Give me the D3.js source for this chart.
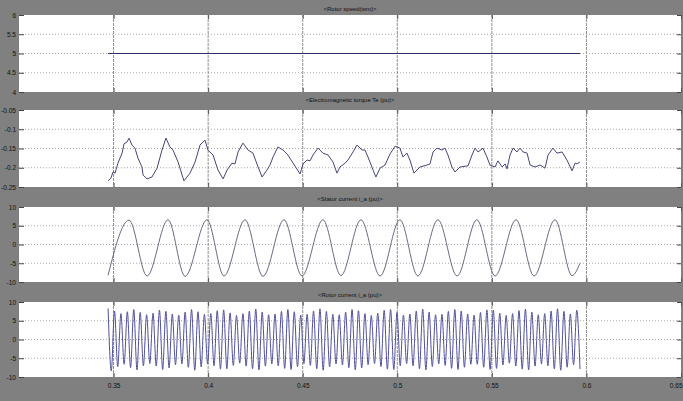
<!DOCTYPE html>
<html><head><meta charset="utf-8">
<script src="https://cdn.jsdelivr.net/npm/d3@7"></script>
<style>body{margin:0;background:#808080;overflow:hidden}svg{display:block}</style>
</head><body><svg id="c" width="683" height="401"></svg>
<script>
// ---------------- DATA ----------------
const xTicks = [0.35, 0.4, 0.45, 0.5, 0.55, 0.6, 0.65];
const xTickLabels = ["0.35", "0.4", "0.45", "0.5", "0.55", "0.6", "0.65"];

const titles = ["<Rotor speed(wm)>", "<Electromagnetic torque Te (pu)>", "<Stator current i_a (pu)>", "<Rotor current i_a (pu)>"];

const speedTicks = [4, 4.5, 5, 5.5, 6];
const speedTickLabels = ["4", "4.5", "5", "5.5", "6"];
const torqueTicks = [-0.25, -0.2, -0.15, -0.1, -0.05];
const torqueTickLabels = ["-0.25", "-0.2", "-0.15", "-0.1", "-0.05"];
const currentTicks = [-10, -5, 0, 5, 10];
const currentTickLabels = ["-10", "-5", "0", "5", "10"];

const speedT = [0.3471, 0.5966];
const speedV = [5, 5];

const torqueT = [0.3471,0.3486,0.3497,0.3508,0.3523,0.3545,0.3555,0.3571,0.3582,0.3597,0.3613,0.3629,0.3650,0.3656,0.3677,0.3703,0.3730,0.3756,0.3777,0.3798,0.3814,0.3841,0.3872,0.3904,0.3931,0.3957,0.3983,0.3999,0.4026,0.4052,0.4079,0.4100,0.4126,0.4142,0.4158,0.4184,0.4211,0.4237,0.4264,0.4285,0.4311,0.4327,0.4343,0.4369,0.4396,0.4422,0.4449,0.4486,0.4502,0.4523,0.4539,0.4554,0.4581,0.4607,0.4634,0.4660,0.4681,0.4697,0.4724,0.4739,0.4766,0.4787,0.4813,0.4829,0.4845,0.4872,0.4887,0.4909,0.4935,0.4962,0.4988,0.5014,0.5030,0.5051,0.5067,0.5088,0.5120,0.5157,0.5173,0.5189,0.5210,0.5236,0.5252,0.5268,0.5289,0.5305,0.5332,0.5374,0.5395,0.5411,0.5427,0.5453,0.5474,0.5490,0.5517,0.5532,0.5554,0.5570,0.5580,0.5596,0.5612,0.5633,0.5649,0.5665,0.5686,0.5702,0.5728,0.5755,0.5781,0.5797,0.5823,0.5844,0.5871,0.5897,0.5924,0.5940,0.5950,0.5966];
const torqueV = [-0.234,-0.227,-0.211,-0.214,-0.188,-0.162,-0.138,-0.133,-0.123,-0.141,-0.149,-0.175,-0.198,-0.219,-0.229,-0.224,-0.201,-0.154,-0.123,-0.146,-0.154,-0.185,-0.234,-0.214,-0.185,-0.141,-0.128,-0.154,-0.167,-0.206,-0.229,-0.206,-0.188,-0.190,-0.159,-0.136,-0.154,-0.162,-0.198,-0.224,-0.206,-0.193,-0.172,-0.146,-0.154,-0.167,-0.188,-0.216,-0.190,-0.180,-0.182,-0.167,-0.149,-0.162,-0.167,-0.185,-0.214,-0.198,-0.188,-0.180,-0.159,-0.141,-0.154,-0.154,-0.172,-0.206,-0.224,-0.201,-0.193,-0.164,-0.144,-0.149,-0.172,-0.162,-0.180,-0.214,-0.198,-0.193,-0.190,-0.159,-0.149,-0.154,-0.149,-0.167,-0.198,-0.211,-0.198,-0.195,-0.167,-0.149,-0.159,-0.149,-0.172,-0.193,-0.198,-0.182,-0.198,-0.190,-0.203,-0.167,-0.149,-0.159,-0.149,-0.159,-0.162,-0.193,-0.198,-0.193,-0.201,-0.167,-0.149,-0.162,-0.159,-0.180,-0.208,-0.188,-0.190,-0.185];

// stator current: start, successive extrema, end
const statorT = [0.3471,0.3582,0.3677,0.3788,0.3878,0.3994,0.4084,0.4195,0.4290,0.4401,0.4496,0.4607,0.4702,0.4808,0.4909,0.5014,0.5109,0.5215,0.5316,0.5421,0.5517,0.5628,0.5723,0.5834,0.5924,0.5966];
const statorV = [-8.2,6.5,-8.4,6.6,-8.5,6.6,-8.4,6.6,-8.5,6.6,-8.4,6.6,-8.3,6.6,-8.4,6.6,-8.4,6.6,-8.4,6.6,-8.4,6.6,-8.4,6.6,-8.3,-5.0];

// rotor current: successive peaks and troughs, sampled evenly from rotorStart to rotorEnd
const rotorStart = 0.3471, rotorEnd = 0.5966;
const rotorPeaks = [8.3,7.6,6.9,7.4,8.0,7.2,6.6,7.0,7.8,7.5,6.8,6.5,7.3,8.0,7.4,6.7,6.9,7.7,7.9,7.1,6.4,6.9,7.6,8.1,7.3,6.6,6.8,7.5,8.0,7.4,6.5,6.7,7.6,8.2,7.5,6.7,6.6,7.3,8.0,7.7,6.9,6.4,7.0,7.8,8.0,7.2,6.5,6.8,7.6,8.1,7.3,6.6,6.7,7.5,8.0,7.6,6.8,6.5,7.2,7.9,7.8,7.0,6.4,6.9,7.7,8.1,7.3,6.6,6.9,7.6,8.2,7.5,6.8,7.8];
const rotorTroughs = [-8.4,-7.2,-6.6,-7.5,-8.1,-7.0,-6.4,-7.1,-8.0,-7.6,-6.7,-6.5,-7.4,-8.2,-7.3,-6.5,-7.0,-7.9,-7.8,-6.9,-6.3,-7.1,-7.8,-8.1,-7.1,-6.5,-7.0,-7.7,-8.0,-7.2,-6.4,-6.9,-7.8,-8.2,-7.3,-6.5,-6.8,-7.5,-8.1,-7.6,-6.7,-6.4,-7.2,-7.9,-8.0,-7.0,-6.4,-7.0,-7.8,-8.1,-7.2,-6.5,-6.9,-7.7,-8.0,-7.4,-6.6,-6.6,-7.4,-8.0,-7.7,-6.8,-6.3,-7.1,-7.9,-8.1,-7.1,-6.5,-7.0,-7.8,-8.2,-7.4,-6.7,-7.9];

// ---------------- DRAW ----------------
const svg = d3.select("#c");
svg.append("rect").attr("width",683).attr("height",401).attr("fill","#808080");

const x = d3.scaleLinear().domain([0.3, 0.65]).range([19, 681]);

const rotorV = [];
rotorPeaks.forEach((p,i)=>{ rotorV.push(p); if (i < rotorTroughs.length) rotorV.push(rotorTroughs[i]); });
const rotorT = rotorV.map((_,i)=> rotorStart + i*(rotorEnd-rotorStart)/(rotorV.length-1));

const panels = [
  {top:15, bottom:92, domain:[4,6], ticks:speedTicks, labels:speedTickLabels, t:speedT, v:speedV, color:"#2e2e6a", curve:d3.curveLinear, titleY:11},
  {top:110, bottom:187, domain:[-0.25,-0.05], ticks:torqueTicks, labels:torqueTickLabels, t:torqueT, v:torqueV, color:"#45457a", curve:d3.curveLinear, titleY:102},
  {top:207, bottom:282, domain:[-10,10], ticks:currentTicks, labels:currentTickLabels, t:statorT, v:statorV, color:"#6b6b82", curve:d3.curveMonotoneX, titleY:201},
  {top:302, bottom:377, domain:[-10,10], ticks:currentTicks, labels:currentTickLabels, t:rotorT, v:rotorV, color:"#50509a", curve:d3.curveMonotoneX, titleY:297}
];

const FONT = "Liberation Sans, Arial, sans-serif";

panels.forEach((p, k)=>{
  const y = d3.scaleLinear().domain(p.domain).range([p.bottom, p.top]);
  const g = svg.append("g");
  g.append("rect").attr("x",19).attr("y",p.top).attr("width",662).attr("height",p.bottom-p.top).attr("fill","#ffffff");
  const clipId = "clip"+k;
  svg.append("clipPath").attr("id",clipId).append("rect").attr("x",19).attr("y",p.top).attr("width",662).attr("height",p.bottom-p.top);

  // horizontal grid
  g.selectAll(".hg").data(p.ticks.slice(1,-1)).join("line")
    .attr("x1",19).attr("x2",681).attr("y1",d=>y(d)).attr("y2",d=>y(d))
    .attr("stroke","#a8a8a8").attr("stroke-width",1).attr("stroke-dasharray","1,2");
  // vertical grid
  g.selectAll(".vg").data(xTicks.slice(0,-1)).join("line")
    .attr("x1",d=>x(d)).attr("x2",d=>x(d)).attr("y1",p.top).attr("y2",p.bottom)
    .attr("stroke","#8c8c8c").attr("stroke-width",1).attr("stroke-dasharray","3,1");

  // axes (ticks inward)
  const yAxisL = d3.axisLeft(y).tickValues(p.ticks).tickFormat((d,i)=>p.labels[i]).tickSize(-5).tickPadding(3);
  const ga = g.append("g").attr("transform","translate(19,0)").call(yAxisL);
  ga.select(".domain").remove();
  ga.selectAll("line").attr("stroke","#444");
  ga.selectAll("text").attr("font-size","6.5px").attr("font-family",FONT).attr("fill","#111");
  const yAxisR = d3.axisRight(y).tickValues(p.ticks).tickSize(-4).tickFormat("");
  const gr = g.append("g").attr("transform","translate(681,0)").call(yAxisR);
  gr.select(".domain").remove();
  gr.selectAll("line").attr("stroke","#444");

  const xb = d3.axisBottom(x).tickValues(xTicks).tickSize(-4).tickFormat(k===3 ? (d,i)=>xTickLabels[i] : "").tickPadding(6);
  const gx = g.append("g").attr("transform",`translate(0,${p.bottom})`).call(xb);
  gx.select(".domain").remove();
  gx.selectAll("line").attr("stroke","#555");
  gx.selectAll("text").attr("font-size","6.5px").attr("font-family",FONT).attr("fill","#111")
    .attr("text-anchor",(d,i)=> i===xTicks.length-1 ? "end" : "middle")
    .attr("dx",(d,i)=> i===xTicks.length-1 ? 1 : 0);
  const xt = d3.axisTop(x).tickValues(xTicks).tickSize(-4).tickFormat("");
  const gxt = g.append("g").attr("transform",`translate(0,${p.top})`).call(xt);
  gxt.select(".domain").remove();
  gxt.selectAll("line").attr("stroke","#555");

  // series
  const line = d3.line().x((d,i)=>x(p.t[i])).y(d=>y(d)).curve(p.curve);
  g.append("path").attr("clip-path",`url(#${clipId})`).attr("d", line(p.v))
    .attr("fill","none").attr("stroke",p.color).attr("stroke-width",1);

  // title
  svg.append("text").attr("x",350).attr("y",p.titleY).attr("text-anchor","middle")
    .attr("font-size","6px").attr("font-family",FONT).attr("fill","#111")
    .text(titles[k]);
});
</script>
</body></html>
